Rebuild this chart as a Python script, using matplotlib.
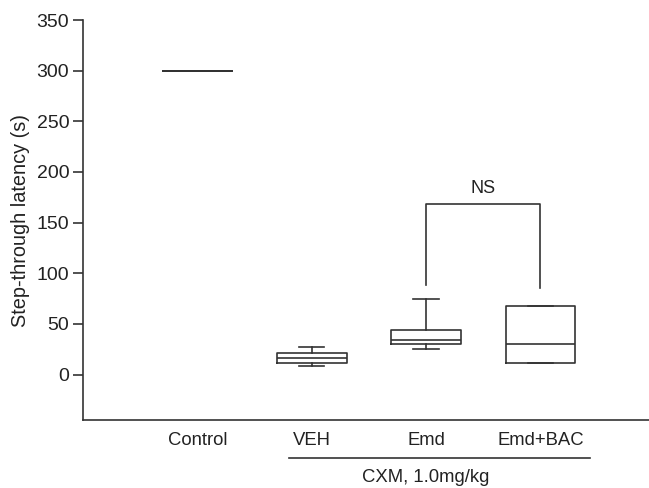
import matplotlib
matplotlib.use("Agg")
import matplotlib.pyplot as plt
import matplotlib.transforms as mtransforms

plt.rcParams['font.family'] = ['Liberation Sans', 'DejaVu Sans']

groups = ["Control", "VEH", "Emd", "Emd+BAC"]
whislo = [300, 8, 25, 11]
q1 = [300, 11, 30, 11]
med = [300, 16, 34, 30]
q3 = [300, 21, 44, 68]
whishi = [300, 27, 75, 68]
yticks = [0, 50, 100, 150, 200, 250, 300, 350]
bracket_groups = (3, 4)
bracket_y = 168
bracket_ends = (88, 85)
group_label = "CXM, 1.0mg/kg"

c = "#333333"
tc = "#222222"
lw = 1.2

fig = plt.figure(figsize=(6.49, 4.88), dpi=100)
ax = fig.add_axes([0.128, 0.139, 0.872, 0.820])

stats = []
for i, g in enumerate(groups):
    stats.append(dict(label=g, whislo=whislo[i], q1=q1[i], med=med[i],
                      q3=q3[i], whishi=whishi[i], fliers=[]))
positions = list(range(1, len(groups) + 1))
ax.bxp(stats, positions=positions, widths=0.61, showfliers=False,
       boxprops=dict(color=c, lw=lw), whiskerprops=dict(color=c, lw=lw),
       capprops=dict(color=c, lw=lw), medianprops=dict(color=c, lw=lw),
       capwidths=0.22)

ax.set_xlim(0, 4.95)
ax.set_ylim(-45, 350)
ax.set_yticks(yticks)
ax.set_xticks([])
for s in ["top", "right"]:
    ax.spines[s].set_visible(False)
for s in ["left", "bottom"]:
    ax.spines[s].set_color(c)
    ax.spines[s].set_linewidth(lw)
ax.tick_params(axis='y', direction='out', length=7, width=lw, color=c,
               labelsize=14, labelcolor=tc, pad=3)
ax.set_ylabel("Step-through latency (s)", fontsize=14.3, color=tc, labelpad=5)

# x group labels
trans = mtransforms.blended_transform_factory(ax.transData, ax.transAxes)
for p, g in zip(positions, groups):
    ax.text(p, -0.052, g, transform=trans, ha='center', va='center',
            fontsize=13.3, color=tc)
ax.plot([1.80, 4.43], [-0.095, -0.095], transform=trans, color=c, lw=lw, clip_on=False)
ax.text(3.0, -0.143, group_label, transform=trans, ha='center', va='center',
        fontsize=13.3, color=tc)

# NS bracket
x1, x2 = bracket_groups
ax.plot([x1, x1, x2, x2], [bracket_ends[0], bracket_y, bracket_y, bracket_ends[1]],
        color=c, lw=lw)
ax.text((x1 + x2) / 2, bracket_y + 7, "NS", ha='center', va='bottom',
        fontsize=13, color=tc)

fig.savefig("out.png", dpi=100)
